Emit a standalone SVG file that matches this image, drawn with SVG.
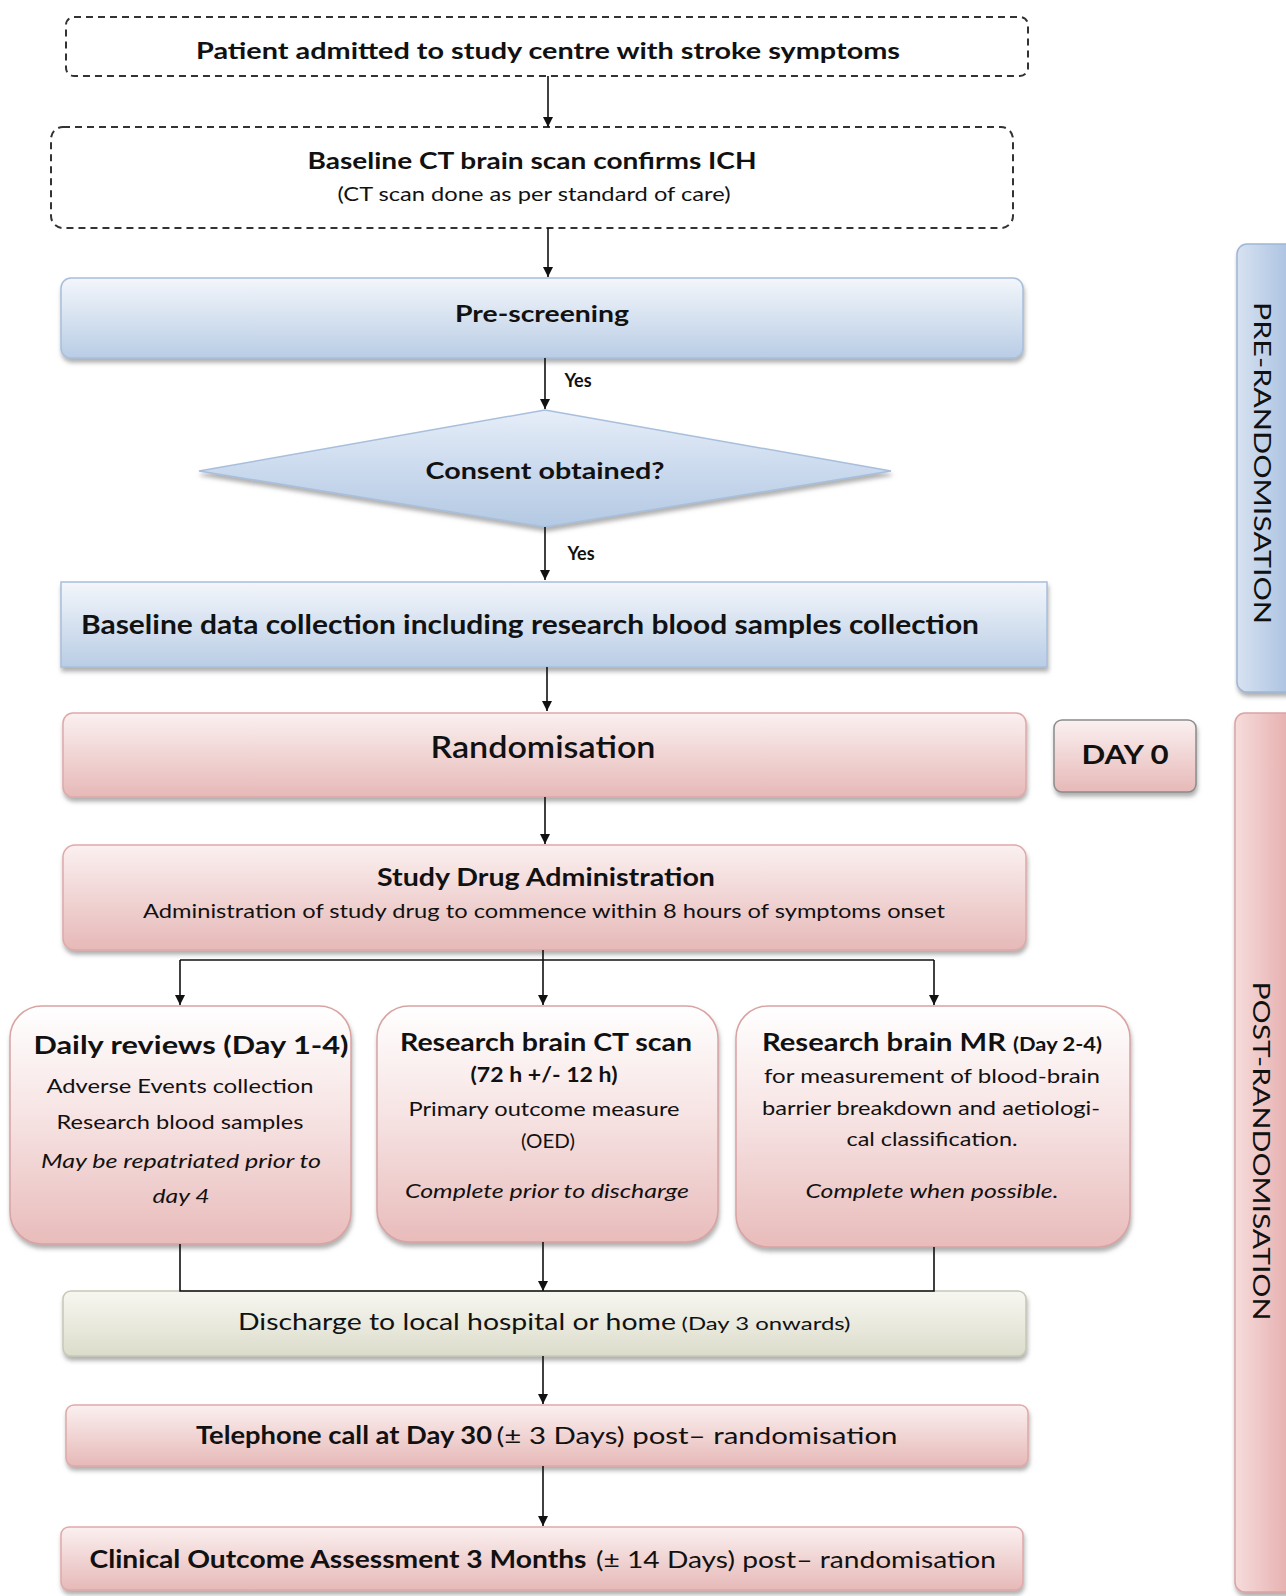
<svg xmlns="http://www.w3.org/2000/svg" width="1286" height="1596" viewBox="0 0 1286 1596">
<defs>
<linearGradient id="gBlue" x1="0" y1="0" x2="0" y2="1"><stop offset="0" stop-color="#f3f6fb"/><stop offset="1" stop-color="#b9cde5"/></linearGradient>
<linearGradient id="gBlueD" x1="0" y1="0" x2="0" y2="1"><stop offset="0" stop-color="#e6eef8"/><stop offset="0.5" stop-color="#cbdaee"/><stop offset="1" stop-color="#b4c9e3"/></linearGradient>
<linearGradient id="gPink" x1="0" y1="0" x2="0" y2="1"><stop offset="0" stop-color="#fbf0f0"/><stop offset="1" stop-color="#e6b9b8"/></linearGradient>
<linearGradient id="gPinkBox" x1="0" y1="0" x2="0" y2="1"><stop offset="0" stop-color="#ffffff"/><stop offset="0.45" stop-color="#f7e4e4"/><stop offset="1" stop-color="#e8bcbb"/></linearGradient>
<linearGradient id="gBeige" x1="0" y1="0" x2="0" y2="1"><stop offset="0" stop-color="#f7f7f1"/><stop offset="1" stop-color="#dcdccb"/></linearGradient>
<linearGradient id="gSideBlue" x1="0" y1="0" x2="1" y2="0"><stop offset="0" stop-color="#d7e2f1"/><stop offset="1" stop-color="#a5bede"/></linearGradient>
<linearGradient id="gSidePink" x1="0" y1="0" x2="1" y2="0"><stop offset="0" stop-color="#f6dcdc"/><stop offset="1" stop-color="#e4a9a8"/></linearGradient>
<filter id="sh" x="-5%" y="-20%" width="110%" height="150%"><feDropShadow dx="1" dy="4" stdDeviation="2" flood-color="#6f6f6f" flood-opacity="0.55"/></filter>
<marker id="arr" viewBox="0 0 10 10" refX="10" refY="5" markerWidth="10" markerHeight="10" markerUnits="userSpaceOnUse" orient="auto"><path d="M0,0 L10,5 L0,10 z" fill="#111"/></marker>
<style>
text{font-family:Lato,"Open Sans","Liberation Sans",sans-serif;fill:#111;text-anchor:middle}
.b{font-weight:bold}
.i{font-style:italic}
.dash{fill:#fff;stroke:#333;stroke-width:2;stroke-dasharray:7 5}
.blue{fill:url(#gBlue);stroke:#a8bfdc;stroke-width:1.5}
.pink{fill:url(#gPink);stroke:#e0a9a8;stroke-width:1.5}
.pbox{fill:url(#gPinkBox);stroke:#d9a3a2;stroke-width:1.5}
.conn{fill:none;stroke:#111;stroke-width:1.6}
</style>
</defs>
<rect width="1286" height="1596" fill="#fff"/>

<g id="side-pre">
<rect x="1237" y="244" width="60" height="448" rx="10" fill="url(#gSideBlue)" stroke="#9fb6d6" stroke-width="1.5" filter="url(#sh)"/>
<text x="1262" y="463" font-size="24" transform="rotate(90 1262 463)" dy="8" textLength="322" lengthAdjust="spacingAndGlyphs">PRE-RANDOMISATION</text>
</g>
<g id="side-post">
<rect x="1235" y="713" width="62" height="879" rx="10" fill="url(#gSidePink)" stroke="#dca3a2" stroke-width="1.5" filter="url(#sh)"/>
<text x="1261" y="1151" font-size="24" transform="rotate(90 1261 1151)" dy="8" textLength="339" lengthAdjust="spacingAndGlyphs">POST-RANDOMISATION</text>
</g>

<g id="n-admitted">
<rect class="dash" x="66" y="17" width="962" height="59" rx="8"/>
<text class="b" x="548" y="59" font-size="23" textLength="704" lengthAdjust="spacingAndGlyphs">Patient admitted to study centre with stroke symptoms</text>
</g>
<g id="n-baselinect">
<rect class="dash" x="51" y="127" width="962" height="101" rx="12"/>
<text class="b" x="532" y="169" font-size="23" textLength="449" lengthAdjust="spacingAndGlyphs">Baseline CT brain scan confirms ICH</text>
<text x="534" y="201" font-size="19" textLength="393" lengthAdjust="spacingAndGlyphs">(CT scan done as per standard of care)</text>
</g>
<g id="n-prescreening">
<rect class="blue" x="61" y="278" width="962" height="80" rx="10" filter="url(#sh)"/>
<text class="b" x="542" y="322" font-size="23" textLength="174" lengthAdjust="spacingAndGlyphs">Pre-screening</text>
</g>
<g id="n-consent">
<polygon points="199,471 545,410 891,471 545,527" fill="url(#gBlueD)" stroke="#a8bfdc" stroke-width="1.5" filter="url(#sh)"/>
<text class="b" x="545" y="479" font-size="23" textLength="239" lengthAdjust="spacingAndGlyphs">Consent obtained?</text>
</g>
<g id="n-baselinedata">
<rect x="61" y="582" width="986" height="85" fill="url(#gBlue)" stroke="#a8bfdc" stroke-width="1.5" filter="url(#sh)"/>
<text class="b" x="81" y="634" font-size="26" style="text-anchor:start" textLength="898" lengthAdjust="spacingAndGlyphs">Baseline data collection including  research blood  samples collection</text>
</g>
<g id="n-randomisation">
<rect class="pink" x="63" y="713" width="963" height="84" rx="10" filter="url(#sh)"/>
<text x="543" y="758" font-size="30" style="font-weight:600" textLength="225" lengthAdjust="spacingAndGlyphs">Randomisation</text>
</g>
<g id="n-day0">
<rect x="1054" y="720" width="142" height="72" rx="8" fill="url(#gPink)" stroke="#8c8c8c" stroke-width="1.5" filter="url(#sh)"/>
<text class="b" x="1125" y="764" font-size="26" textLength="87" lengthAdjust="spacingAndGlyphs">DAY 0</text>
</g>
<g id="n-studydrug">
<rect class="pink" x="63" y="845" width="963" height="105" rx="12" filter="url(#sh)"/>
<text class="b" x="546" y="886" font-size="24" textLength="338" lengthAdjust="spacingAndGlyphs">Study Drug Administration</text>
<text x="544" y="918" font-size="20" textLength="802" lengthAdjust="spacingAndGlyphs">Administration of study drug to commence within 8 hours of symptoms onset</text>
</g>
<g id="n-daily">
<rect class="pbox" x="10" y="1006" width="341" height="238" rx="32" filter="url(#sh)"/>
<text class="b" x="191" y="1054" font-size="24" textLength="315" lengthAdjust="spacingAndGlyphs">Daily reviews (Day 1-4)</text>
<text x="180" y="1093" font-size="20" textLength="267" lengthAdjust="spacingAndGlyphs">Adverse Events collection</text>
<text x="180" y="1129" font-size="20" textLength="247" lengthAdjust="spacingAndGlyphs">Research blood samples</text>
<text class="i" x="181" y="1168" font-size="20" textLength="280" lengthAdjust="spacingAndGlyphs">May be repatriated prior to</text>
<text class="i" x="181" y="1203" font-size="20" textLength="57" lengthAdjust="spacingAndGlyphs">day 4</text>
</g>
<g id="n-ctscan">
<rect class="pbox" x="377" y="1006" width="341" height="236" rx="32" filter="url(#sh)"/>
<text class="b" x="546" y="1051" font-size="24" textLength="292" lengthAdjust="spacingAndGlyphs">Research brain CT scan</text>
<text class="b" x="544" y="1082" font-size="20" textLength="147" lengthAdjust="spacingAndGlyphs">(72 h +/- 12 h)</text>
<text x="544" y="1116" font-size="20" textLength="271" lengthAdjust="spacingAndGlyphs">Primary outcome measure</text>
<text x="548" y="1148" font-size="20" textLength="54" lengthAdjust="spacingAndGlyphs">(OED)</text>
<text class="i" x="547" y="1198" font-size="20" textLength="284" lengthAdjust="spacingAndGlyphs">Complete prior to discharge</text>
</g>
<g id="n-mr">
<rect class="pbox" x="736" y="1006" width="394" height="241" rx="32" filter="url(#sh)"/>
<text class="b" x="932" y="1051" font-size="24" textLength="340" lengthAdjust="spacingAndGlyphs">Research brain MR <tspan font-size="18">(Day 2-4)</tspan></text>
<text x="932" y="1083" font-size="20" textLength="336" lengthAdjust="spacingAndGlyphs">for measurement of blood-brain</text>
<text x="931" y="1115" font-size="20" textLength="338" lengthAdjust="spacingAndGlyphs">barrier breakdown and aetiologi-</text>
<text x="932" y="1146" font-size="20" textLength="171" lengthAdjust="spacingAndGlyphs">cal classification.</text>
<text class="i" x="932" y="1198" font-size="20" textLength="253" lengthAdjust="spacingAndGlyphs">Complete when possible.</text>
</g>
<g id="n-discharge">
<rect x="63" y="1291" width="963" height="65" rx="8" fill="url(#gBeige)" stroke="#c8c8b6" stroke-width="1.5" filter="url(#sh)"/>
<text x="457" y="1330" font-size="24" textLength="438" lengthAdjust="spacingAndGlyphs">Discharge to local hospital or home</text>
<text x="766" y="1330" font-size="18" textLength="169" lengthAdjust="spacingAndGlyphs">(Day 3 onwards)</text>
</g>
<g id="n-telephone">
<rect class="pink" x="66" y="1405" width="962" height="61" rx="8" filter="url(#sh)"/>
<text class="b" x="344" y="1444" font-size="24" textLength="296" lengthAdjust="spacingAndGlyphs">Telephone call at Day 30</text>
<text x="697" y="1444" font-size="24" textLength="401" lengthAdjust="spacingAndGlyphs">(± 3 Days) post– randomisation</text>
</g>
<g id="n-clinical">
<rect class="pink" x="61" y="1527" width="962" height="63" rx="8" filter="url(#sh)"/>
<text class="b" x="338" y="1568" font-size="24" textLength="497" lengthAdjust="spacingAndGlyphs">Clinical Outcome Assessment 3 Months</text>
<text x="796" y="1568" font-size="24" textLength="400" lengthAdjust="spacingAndGlyphs">(± 14 Days) post– randomisation</text>
</g>

<g id="connectors">
<line class="conn" x1="548" y1="76" x2="548" y2="127" marker-end="url(#arr)"/>
<line class="conn" x1="548" y1="228" x2="548" y2="277" marker-end="url(#arr)"/>
<line class="conn" x1="545" y1="358" x2="545" y2="409" marker-end="url(#arr)"/>
<text class="b" x="578" y="387" font-size="18">Yes</text>
<line class="conn" x1="545" y1="527" x2="545" y2="580" marker-end="url(#arr)"/>
<text class="b" x="581" y="560" font-size="18">Yes</text>
<line class="conn" x1="547" y1="667" x2="547" y2="711" marker-end="url(#arr)"/>
<line class="conn" x1="545" y1="797" x2="545" y2="844" marker-end="url(#arr)"/>
<polyline class="conn" points="543,950 543,960"/>
<polyline class="conn" points="180,960 934,960"/>
<line class="conn" x1="180" y1="960" x2="180" y2="1005" marker-end="url(#arr)"/>
<line class="conn" x1="543" y1="960" x2="543" y2="1005" marker-end="url(#arr)"/>
<line class="conn" x1="934" y1="960" x2="934" y2="1005" marker-end="url(#arr)"/>
<polyline class="conn" points="180,1244 180,1291 934,1291 934,1247"/>
<line class="conn" x1="543" y1="1242" x2="543" y2="1291" marker-end="url(#arr)"/>
<line class="conn" x1="543" y1="1356" x2="543" y2="1404" marker-end="url(#arr)"/>
<line class="conn" x1="543" y1="1466" x2="543" y2="1526" marker-end="url(#arr)"/>
</g>
</svg>
